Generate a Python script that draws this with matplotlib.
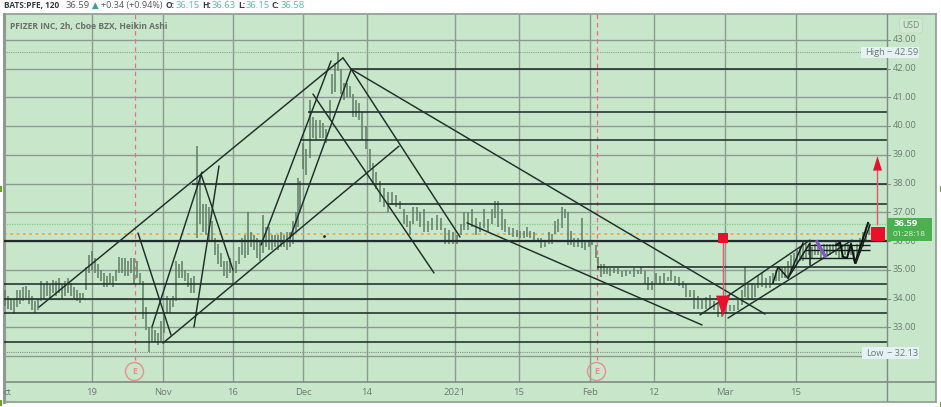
import matplotlib
matplotlib.use("Agg")
import matplotlib.pyplot as plt
from matplotlib.patches import Rectangle, Ellipse

plt.rcParams['font.family'] = ['Open Sans', 'DejaVu Sans']

# ---------- data ----------
bar_pos = [5,8,11,14,17,20,23,26,29,32,
 35,38,41,44,47,50,53,56,59,62,
 65,68,71,74,77,80,83,86,89,92,
 95,98,101,104,107,110,113,116,119,122,
 125,128,131,134,137,140,143,146,149,152,
 155,158,161,164,167,170,173,176,179,182,
 185,188,191,194,197,200,203,206,209,212,
 215,218,221,224,227,230,233,236,239,242,
 245,248,251,254,257,260,263,266,269,272,
 275,278,281,284,287,290,293,296,298,300,
 303,306,310,313,316,320,323,326,330,332,
 335,338,341,344,347,350,353,356,359,362,
 366,370,373,376,380,384,388,392,396,400,
 404,407,410,413,417,420,424,428,432,437,
 441,445,449,453,457,461,464,468,472,476,
 480,484,488,492,495,498,502,505,509,513,
 517,520,524,527,530,534,538,541,545,549,
 552,555,558,562,565,568,571,574,578,582,
 585,589,592,596,598,601,604,607,610,614,
 618,622,626,630,634,638,641,645,648,652,
 656,660,664,668,671,675,679,683,686,690,
 694,698,702,706,710,714,718,722,726,730,
 734,738,742,745,748,752,755,758,762,766,
 770,773,776,779,782,785,788,791,794,797,
 800,803,806,809,812,815,818,821,824,827,
 830,833,836,839,842,845,848,851,854,857,
 860,863,866,869]
bar_low = [33.75,33.65,33.6,33.45,33.7,33.8,33.9,33.95,33.8,33.6,
 33.5,33.6,33.9,34.0,34.1,34.0,34.2,34.1,34.2,34.0,
 34.1,34.2,34.1,34.0,33.9,33.85,34.0,34.3,34.9,35.0,
 34.9,34.7,34.6,34.4,34.4,34.5,34.4,34.6,34.9,34.9,
 34.8,34.8,34.9,34.5,34.7,34.5,33.3,32.9,32.13,32.5,
 32.5,32.4,32.5,32.8,33.5,33.5,33.7,33.9,34.7,34.7,
 34.6,34.4,34.2,34.2,36.1,36.6,36.3,36.2,36.0,36.0,
 35.5,35.2,35.1,34.8,34.7,34.9,34.5,34.9,35.2,35.5,
 35.4,35.5,35.8,35.7,35.4,35.3,35.6,35.8,35.7,35.7,
 35.8,35.7,35.8,35.8,35.7,35.8,35.9,36.3,36.5,37.0,
 38.5,38.3,38.9,39.6,39.5,39.6,39.6,39.4,40.2,41.1,
 41.2,41.9,41.1,40.9,41.0,41.0,40.3,40.3,40.2,39.5,
 39.2,38.5,38.0,37.8,37.35,37.2,37.0,37.25,37.2,37.1,
 36.6,36.5,36.2,36.6,36.7,36.5,36.3,36.3,36.4,36.4,
 36.4,35.9,35.9,35.9,35.9,36.2,36.4,36.4,36.5,36.2,
 36.3,36.45,36.3,36.6,36.8,36.5,36.4,36.3,36.2,36.15,
 36.15,36.1,36.1,36.15,36.1,36.0,35.95,35.75,35.8,35.9,
 35.9,36.25,36.3,36.45,36.8,35.85,35.85,35.8,35.8,35.75,
 35.7,35.8,35.85,35.4,35.0,34.75,34.85,34.85,34.8,34.9,
 34.85,34.75,34.8,34.85,34.75,34.85,34.85,34.5,34.3,34.3,
 34.55,34.5,34.5,34.6,34.6,34.5,34.45,34.35,34.05,34.05,
 33.65,33.65,33.65,33.65,33.67,33.6,33.35,33.35,33.5,33.55,
 33.55,33.6,33.77,34.05,34.0,33.95,34.05,34.37,34.4,34.37,
 34.35,34.5,34.6,34.6,34.7,34.7,34.8,35.0,35.1,35.2,
 35.3,35.3,35.4,35.5,35.4,35.5,35.5,35.4,35.5,35.5,
 35.5,35.6,35.5,35.4,35.4,35.5,35.5,35.5,35.3,35.4,
 35.6,35.8,36.0,36.2]
bar_high = [34.3,34.1,34.0,34.0,34.3,34.3,34.4,34.45,34.3,34.1,
 33.9,34.0,34.6,34.5,34.6,34.5,34.65,34.6,34.7,34.5,
 34.6,34.7,34.55,34.4,34.3,34.2,34.2,35.1,35.5,35.65,
 35.4,35.2,35.0,34.9,34.8,34.9,34.8,35.0,35.45,35.4,
 35.4,35.3,35.4,35.4,35.3,34.9,34.6,33.7,33.0,33.0,
 32.9,32.8,33.2,33.5,34.1,34.0,34.1,35.3,35.2,35.3,
 35.0,34.9,34.7,34.8,39.3,38.3,37.3,37.3,37.2,36.7,
 36.1,35.9,35.6,35.3,35.3,35.4,35.0,35.3,35.8,36.1,
 36.2,37.0,36.3,36.2,36.1,36.0,36.9,36.5,36.5,36.2,
 36.2,36.2,36.3,36.2,36.3,36.3,36.7,37.0,38.2,38.1,
 39.4,39.2,40.9,40.3,40.2,40.2,40.1,39.9,40.9,41.8,
 42.2,42.59,42.0,41.5,41.5,41.4,41.1,40.9,40.8,40.5,
 40.0,39.2,38.7,38.4,38.1,37.85,37.7,37.7,37.6,37.4,
 37.1,36.9,36.7,37.2,37.2,37.0,37.1,36.7,36.8,36.9,
 36.8,36.45,36.4,36.3,36.2,36.6,37.0,37.0,37.1,36.8,
 36.65,37.1,36.75,37.1,37.4,37.4,37.1,36.75,36.5,36.45,
 36.4,36.35,36.35,36.5,36.35,36.3,36.1,36.1,36.05,36.3,
 36.25,36.7,36.75,37.2,37.1,37.0,36.35,36.1,36.1,36.8,
 36.0,36.0,36.0,35.85,35.45,35.2,35.2,35.05,35.05,35.05,
 35.05,34.95,35.0,34.95,35.05,35.0,35.1,34.95,34.75,34.6,
 34.9,34.8,34.9,34.75,35.0,34.8,34.75,34.6,34.5,34.3,
 34.3,34.1,33.95,34.05,34.12,33.9,33.85,33.77,33.77,33.77,
 33.77,34.0,34.3,35.1,34.47,34.54,34.47,34.8,34.9,34.7,
 34.8,34.9,35.0,35.1,35.1,35.1,35.3,35.5,35.6,35.7,
 35.8,35.9,35.9,35.9,35.8,35.9,35.9,35.8,35.9,35.9,
 35.9,35.9,36.0,36.0,35.9,35.9,35.9,36.0,35.7,35.9,
 36.1,36.3,36.5,36.63]

price_ticks = [43,42,41,40,39,38,37,36,35,34,33,32]
price_labels = ['43.00','42.00','41.00','40.00','39.00','38.00','37.00','36.00','35.00','34.00','33.00','32.00']
date_pos = [91.5,162.5,233,303,366.7,454.7,518.7,590,654,725,795.7]
date_labels = ['19','Nov','16','Dec','14','2021','15','Feb','12','Mar','15']

level_price = [41.98,40.5,39.5,38.0,37.3,36.0,35.1,34.5,34.0,33.5,32.5]
level_start = [351,308,300,192,388,4,597,4,4,4,4]

trend_x = [(39,343),(351,765),(343,351),(351,460),(313,434),(399,163),(351,290),
           (331,261),(219,194),(202,152),(201,233),(138,171),(467,702),(700,810),(728,852)]
trend_p = [(33.70,42.37),(41.98,33.46),(42.37,41.98),(41.98,36.14),(41.11,34.89),(39.30,32.45),(41.95,36.10),
           (42.26,35.86),(38.61,33.01),(38.40,33.01),(38.33,34.99),(36.28,32.73),(36.63,33.08),(33.43,36.03),(33.32,36.03)]

zig_a_x = [773,778,788,803]
zig_a_p = [34.54,35.10,34.71,35.93]
zig_b_x = [788,810,810]
zig_b_p = [34.71,35.93,35.17]
zig_c_x = [836,840,843,847,851,855,868]
zig_c_p = [35.86,35.95,35.45,35.41,35.90,35.23,36.63]
zig_d_x = [856,870]
zig_d_p = [35.23,36.56]
box_price = [35.86,35.70,35.41]
box_start = [810,805,800]
box_end = [870,870,855]
purple_x = [817,825]
purple_p = [35.97,35.48]

last_price = 36.59
orange_price = 36.24
high_price = 42.59
low_price = 32.13
earnings_pos = [134.5,596.5]

# ---------- canvas ----------
W, H = 941, 407
fig = plt.figure(figsize=(W/100, H/100), dpi=100, facecolor='white')
L, R, T, B = 4, 936, 14, 402
ax = fig.add_axes([L/W, 1-B/H, (R-L)/W, (B-T)/H])
BG = '#c8e6c9'
ax.set_facecolor(BG)
ax.set_xlim(L, R)
p_of = lambda y: 36 + (241-y)/28.75
ax.set_ylim(p_of(B), p_of(T))
ax.set_xticks([]); ax.set_yticks([])
for s in ax.spines.values():
    s.set_color('#8f9a92'); s.set_linewidth(1.2)
ax.spines['left'].set_linewidth(2.2)

AX_R = 887
GRID = '#8c9a93'
ax.hlines(price_ticks, L, AX_R, color=GRID, lw=1.0, zorder=1)
ax.vlines(date_pos, p_of(382), p_of(T), color=GRID, lw=1.0, zorder=1)
ax.axhline(p_of(382), color='#7f8c84', lw=1.2, zorder=1)
ax.axvline(AX_R, color='#7f8c84', lw=1.0, zorder=6)

# dotted guide lines
ax.hlines(high_price, L, 861, color='#90a08f', lw=0.8, linestyles=(0,(1,1)), zorder=1)
ax.hlines(low_price, L, 861, color='#7f9080', lw=0.8, linestyles=(0,(1,1)), zorder=1)
ax.hlines(last_price, L, AX_R, color='#86c98a', lw=0.9, linestyles=(0,(1,1)), zorder=1)
ax.hlines(orange_price, L, AX_R, color='#f5a83c', lw=1.3, linestyles=(0,(1.5,2)), zorder=2)

# earnings markers
ax.vlines(earnings_pos, p_of(360), p_of(T), color='#ee6d8c', lw=0.9, linestyles=(0,(3.5,3)), zorder=2)

# bars
ax.vlines(bar_pos, bar_low, bar_high, color='#5f7b65', lw=1.1, zorder=3)
ax.plot([324], [36.17], marker='.', ms=2, color='#222222', zorder=3)

# levels + trendlines
DK = '#1f2e2b'
ax.hlines(level_price, level_start, AX_R, color=DK, lw=1.15, zorder=4)
ax.hlines(36.0, L, AX_R, color=DK, lw=1.6, zorder=4)
for xs, ps in zip(trend_x, trend_p):
    ax.plot(xs, ps, color=DK, lw=1.05, zorder=4, solid_capstyle='round')
ax.hlines(box_price, box_start, box_end, color='#15201d', lw=1.0, zorder=5)
ax.plot(zig_a_x, zig_a_p, color='#15201d', lw=1.1, zorder=5)
ax.plot(zig_b_x, zig_b_p, color='#15201d', lw=1.1, zorder=5)
ax.plot(zig_c_x, zig_c_p, color='#0d1412', lw=1.4, zorder=5)
ax.plot(zig_d_x, zig_d_p, color='#15201d', lw=1.0, zorder=5)
ax.plot(purple_x, purple_p, color='#7e57c2', lw=2.4, zorder=5)

# red signals
RED = '#e8112d'
ax.plot([723,723], [36.1,33.9], color='#e8536a', lw=1.0, zorder=6)
ax.plot([723], [36.1], marker='s', ms=6.6, color=RED, mew=0, zorder=7)
ax.fill([716,730,723], [34.1,34.1,33.37], color=RED, lw=0, zorder=7)
ax.plot([877,877], [36.6,38.5], color='#e8536a', lw=1.0, zorder=6)
ax.plot([877.5], [36.25], marker='s', ms=10, color=RED, mew=0, zorder=7)
ax.fill([873,882,877.5], [38.45,38.45,38.95], color=RED, lw=0, zorder=7)

# ---------- pixel-placed text ----------
def T_(x, y, s, **k):
    k.setdefault('va', 'center'); k.setdefault('ha', 'left')
    return fig.text(x/W, 1-y/H, s, **k)

def A_(x, y, s, **k):
    # text inside the axes z-order, so a badge can cover it
    k.setdefault('va', 'center'); k.setdefault('ha', 'left')
    return ax.text(x, p_of(y), s, clip_on=False, **k)

for yv, lab in zip(price_ticks, price_labels):
    ax.plot([AX_R, AX_R+3], [yv, yv], color='#7f8c84', lw=0.7, zorder=6)
    A_(892.5, 241-(yv-36)*28.75, lab, fontsize=6.7, color='#6d7b72', zorder=6)
T_(4, 392.5, 'ct', fontsize=6.8, color='#6d7b72', ha='left')
for xv, lab in zip(date_pos, date_labels):
    T_(xv, 392.5, lab, fontsize=6.8, color='#6d7b72', ha='center')

for ex in earnings_pos:
    ax.add_patch(Ellipse((ex, p_of(371.5)), 18, 18/28.75, fc='none', ec='#e98f8f', lw=1.0, zorder=6))
    T_(ex, 371.5, 'E', fontsize=6.5, color='#e98f8f', ha='center', fontweight='bold')

# price badges
ax.add_patch(Rectangle((AX_R, p_of(240.7)), 45, 22.7/28.75, fc='#4caf50', ec='none', zorder=8))
T_(894, 224, '36.59', fontsize=6.8, color='white', fontweight='bold')
T_(893, 234.5, '01:28:18', fontsize=6, color='#dff3df')
ax.add_patch(Rectangle((861, p_of(58)), 58, 11/28.75, fc='#e4f2f6', ec='none', zorder=8))
T_(865, 52.5, 'High', fontsize=6.7, color='#6d7b72')
T_(887, 52.5, '\u2212 42.59', fontsize=6.7, color='#6d7b72')
ax.add_patch(Rectangle((862, p_of(359)), 57, 12/28.75, fc='#e4f2f6', ec='none', zorder=8))
T_(866, 353, 'Low', fontsize=6.7, color='#6d7b72')
T_(887, 353, '\u2212 32.13', fontsize=6.7, color='#6d7b72')
T_(911, 25.5, 'USD', fontsize=6.2, color='#7c8a81', ha='center',
   bbox=dict(boxstyle='round,pad=0.35', fc='#cfe8cf', ec='#bfd6c0', lw=0.5))

# title + header
T_(10, 27, 'PFIZER INC, 2h, Cboe BZX, Heikin Ashi', fontsize=6.1, color='#6a6f6b', fontweight='bold')
T_(4, 5.5, 'BATS:PFE, 120', fontsize=5.95, color='#333a40', fontweight='bold')
T_(66, 5.5, '36.59', fontsize=6.8, color='#555b60')
T_(95.5, 5.5, '\u25b2', fontsize=6.2, color='#35a79a', ha='center')
T_(101, 5.5, '+0.34 (+0.94%)', fontsize=6.5, color='#555b60')
for x_, lab_, x2_, val_ in [(166,'O:',176,'36.15'),(202,'H:',212,'36.63'),(238,'L:',246,'36.15'),(272,'C:',281,'36.58')]:
    T_(x_, 5.5, lab_, fontsize=6, color='#333a40', fontweight='bold')
    T_(x2_, 5.5, val_, fontsize=6.8, color='#5bbcae')

# edge ticks
for ex, ey in [(0,186),(0,400),(939.5,186),(939.5,402)]:
    fig.add_artist(Rectangle((ex/W, 1-(ey+6)/H), 1.5/W, 6/H, fc='#6aa820', ec='none', transform=fig.transFigure))

fig.savefig('out.png', dpi=100)
